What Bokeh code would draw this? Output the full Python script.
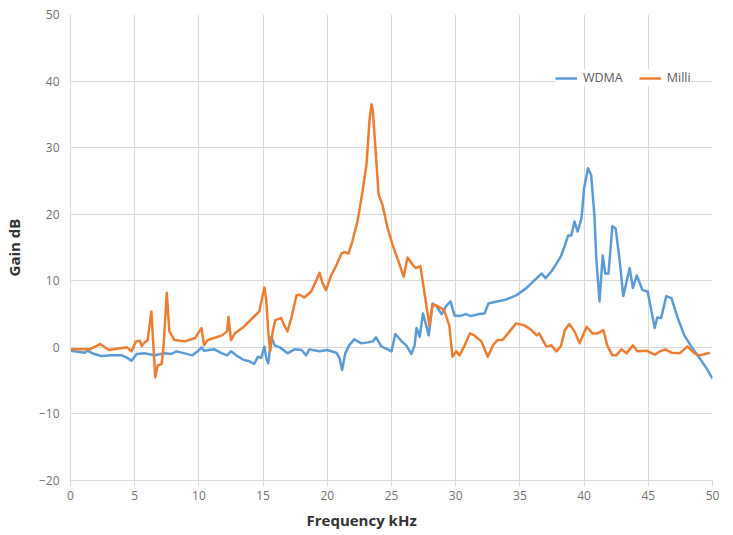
from bokeh.plotting import figure
from bokeh.models import Range1d, Legend, LegendItem, Title, FixedTicker
from bokeh.embed import file_html
from bokeh.resources import INLINE

# ---- data ----
wdma_freq = [0, 1.1, 1.3, 1.85, 2.4, 3.2, 4.0, 4.35, 4.75, 5.15, 5.75, 6.55, 7.3, 7.85, 8.25, 8.9,
             9.5, 9.9, 10.2, 10.4, 11.2, 11.8, 12.2, 12.5, 12.9, 13.5, 13.95, 14.3, 14.6, 14.85,
             15.1, 15.25, 15.4, 15.65, 15.9, 16.3, 16.9, 17.45, 18.0, 18.35, 18.6, 19.4, 20.0,
             20.7, 20.95, 21.15, 21.4, 21.7, 22.1, 22.65, 23.15, 23.55, 23.8, 24.2, 24.7, 25.0,
             25.3, 25.8, 26.15, 26.55, 26.8, 26.95, 27.2, 27.45, 27.7, 27.9, 28.2, 28.5, 28.9,
             29.3, 29.6, 29.9, 30.3, 30.8, 31.2, 31.85, 32.25, 32.55, 33.2, 33.95, 34.7, 35.5,
             36.15, 36.7, 37.0, 37.45, 37.85, 38.2, 38.5, 38.75, 39.0, 39.25, 39.5, 39.8, 40.0,
             40.3, 40.55, 40.8, 40.95, 41.2, 41.45, 41.65, 41.9, 42.2, 42.45, 42.75, 43.05, 43.55,
             43.8, 44.1, 44.55, 44.95, 45.5, 45.7, 46.0, 46.4, 46.8, 47.3, 47.8, 48.45, 49.0,
             49.55, 50.0]
wdma_gain = [-0.5, -0.8, -0.5, -1.0, -1.3, -1.2, -1.2, -1.5, -2.0, -1.0, -0.9, -1.2, -0.9, -1.0,
             -0.6, -0.9, -1.2, -0.6, 0.0, -0.5, -0.3, -0.9, -1.2, -0.6, -1.2, -1.9, -2.1, -2.5,
             -1.4, -1.6, 0.1, -1.7, -2.4, 1.6, 0.3, 0.0, -0.9, -0.3, -0.4, -1.2, -0.3, -0.6, -0.4,
             -0.8, -1.6, -3.4, -0.9, 0.3, 1.2, 0.6, 0.75, 0.9, 1.5, 0.15, -0.3, -0.6,
             2.0, 0.9, 0.3, -1.0, 0.3, 2.9, 1.6, 5.1, 3.3, 1.8, 6.6, 6.2, 5.0,
             6.3, 6.9, 4.8, 4.7, 5.0, 4.7, 5.0, 5.1, 6.6, 6.9, 7.2, 7.8, 8.9,
             10.1, 11.1, 10.4, 11.4, 12.6, 13.7, 15.3, 16.8, 16.8, 18.9, 17.4, 19.4, 23.9,
             26.9, 25.9, 19.9, 13.4, 6.9, 13.8, 11.1, 11.1, 18.2, 17.9, 13.4, 7.7, 11.9,
             8.9, 10.8, 8.6, 8.4, 2.9, 4.5, 4.4, 7.7, 7.4, 4.4, 1.8, -0.15, -1.65,
             -3.2, -4.7]

milli_freq = [0, 1.5, 2.3, 3.0, 4.4, 4.75, 5.1, 5.4, 5.55, 5.8, 6.0, 6.3, 6.5, 6.6, 6.8, 7.1, 7.25,
              7.5, 7.7, 8.1, 8.9, 9.7, 10.2, 10.4, 10.7, 11.8, 12.2, 12.3, 12.5, 12.8, 13.5, 14.7,
              15.1, 15.25, 15.4, 15.55, 15.75, 15.95, 16.4, 16.65, 16.9, 17.2, 17.6, 17.85, 18.2,
              18.75, 19.15, 19.4, 19.6, 19.9, 20.3, 20.7, 21.1, 21.35, 21.65, 21.95, 22.35, 22.7,
              23.05, 23.3, 23.45, 23.55, 23.75, 24.0, 24.3, 24.7, 25.1, 25.55, 25.95, 26.25,
              26.65, 26.9, 27.25, 27.55, 27.95, 28.2, 28.6, 29.1, 29.5, 29.75, 30.05, 30.3, 30.7,
              31.1, 31.45, 32.0, 32.5, 32.9, 33.25, 33.65, 34.2, 34.7, 35.35, 35.9, 36.3, 36.5,
              37.05, 37.45, 37.85, 38.2, 38.5, 38.85, 39.25, 39.65, 40.2, 40.65, 41.05, 41.5,
              41.8, 42.2, 42.5, 42.9, 43.3, 43.8, 44.15, 44.85, 45.5, 45.9, 46.35, 46.8, 47.45,
              48.05, 48.6, 49.0, 49.8]
milli_gain = [-0.3, -0.3, 0.5, -0.4, 0.0, -0.6, 0.9, 1.0, 0.2, 0.8, 1.0, 5.4, -1.2, -4.5, -2.7,
              -2.5, 0.3, 8.2, 2.4, 1.1, 0.9, 1.4, 2.9, 0.3, 1.1, 1.8, 2.4, 4.6, 1.1, 2.1, 3.1, 5.4,
              9.0, 7.0, 2.4, -0.6, 2.4, 4.1, 4.4, 3.3, 2.4, 4.4, 7.8, 7.9, 7.5,
              8.4, 10.1, 11.2, 9.8, 8.6, 10.8, 12.3, 14.1, 14.3, 14.1, 15.9, 18.9, 22.9,
              27.4, 34.4, 36.5, 35.5, 29.9, 22.9, 21.4, 17.9, 15.3, 12.9, 10.6, 13.5,
              12.4, 11.9, 12.2, 8.4, 3.3, 6.4, 6.2, 5.6, 3.3, -1.4, -0.6, -1.2, 0.3,
              2.1, 1.8, 0.9, -1.4, 0.3, 1.1, 1.1, 2.4, 3.6, 3.3, 2.6, 1.8, 2.1,
              0.15, 0.3, -0.6, 0.2, 2.6, 3.5, 2.4, 0.6, 3.1, 2.1, 2.1, 2.6,
              0.3, -1.2, -1.2, -0.3, -0.9, 0.3, -0.6, -0.5, -1.1, -0.6, -0.3, -0.8, -0.9,
              0.15, -0.9, -1.2, -0.8]

x_ticks = [0, 5, 10, 15, 20, 25, 30, 35, 40, 45, 50]
y_ticks = [-20, -10, 0, 10, 20, 30, 40, 50]

BLUE = "#5B9BD5"
ORANGE = "#ED7D31"
GRID = "#d9d9d9"
FONT = "Open Sans"

p = figure(frame_width=642, frame_height=466, output_backend="svg", toolbar_location=None,
           x_range=Range1d(0, 50), y_range=Range1d(-20, 50),
           min_border_left=65, min_border_right=10, min_border_top=14, min_border_bottom=50,
           outline_line_color=None, background_fill_color="white", border_fill_color="white")

r1 = p.line(wdma_freq, wdma_gain, line_color=BLUE, line_width=2.5, line_join="round")
r2 = p.line(milli_freq, milli_gain, line_color=ORANGE, line_width=2.5, line_join="round")

p.xaxis.ticker = FixedTicker(ticks=x_ticks)
p.yaxis.ticker = FixedTicker(ticks=y_ticks)
p.xgrid.ticker = FixedTicker(ticks=x_ticks)
p.ygrid.ticker = FixedTicker(ticks=y_ticks)
for g in (p.xgrid, p.ygrid):
    g.grid_line_color = GRID
    g.grid_line_width = 1

for ax in (p.xaxis, p.yaxis):
    ax.axis_line_color = GRID
    ax.axis_line_width = 1
    ax.minor_tick_line_color = None
    ax.major_label_text_font = FONT
    ax.major_label_text_font_size = "12px"
    ax.major_label_text_color = "#707070"
    ax.axis_label_text_font = FONT
    ax.axis_label_text_font_size = "15px"
    ax.axis_label_text_color = "#333333"
    ax.axis_label_text_font_style = "bold"

p.xaxis.major_tick_line_color = GRID
p.xaxis.major_tick_out = 6
p.xaxis.major_tick_in = 0
p.xaxis.major_label_standoff = 4

p.yaxis.major_tick_line_color = None
p.yaxis.major_tick_out = 0
p.yaxis.major_tick_in = 0
p.yaxis.major_label_standoff = 11
p.yaxis.axis_label = "Gain dB"
p.yaxis.axis_label_standoff = 12

xtitle = Title(text="Frequency kHz", align="left", offset=236, standoff=10,
               text_font=FONT, text_font_size="15px", text_font_style="bold",
               text_color="#333333")
p.add_layout(xtitle, "below")

legend = Legend(items=[LegendItem(label="WDMA", renderers=[r1]),
                       LegendItem(label="Milli", renderers=[r2])],
                orientation="horizontal", location=(485, 394),
                glyph_width=22, glyph_height=12, label_standoff=6, spacing=16,
                padding=5, margin=0, label_text_font=FONT, label_text_font_size="12.5px",
                label_text_color="#595959", border_line_color=None,
                background_fill_color="white", background_fill_alpha=1.0)
p.add_layout(legend)

open("out.html", "w").write(file_html(p, INLINE))
